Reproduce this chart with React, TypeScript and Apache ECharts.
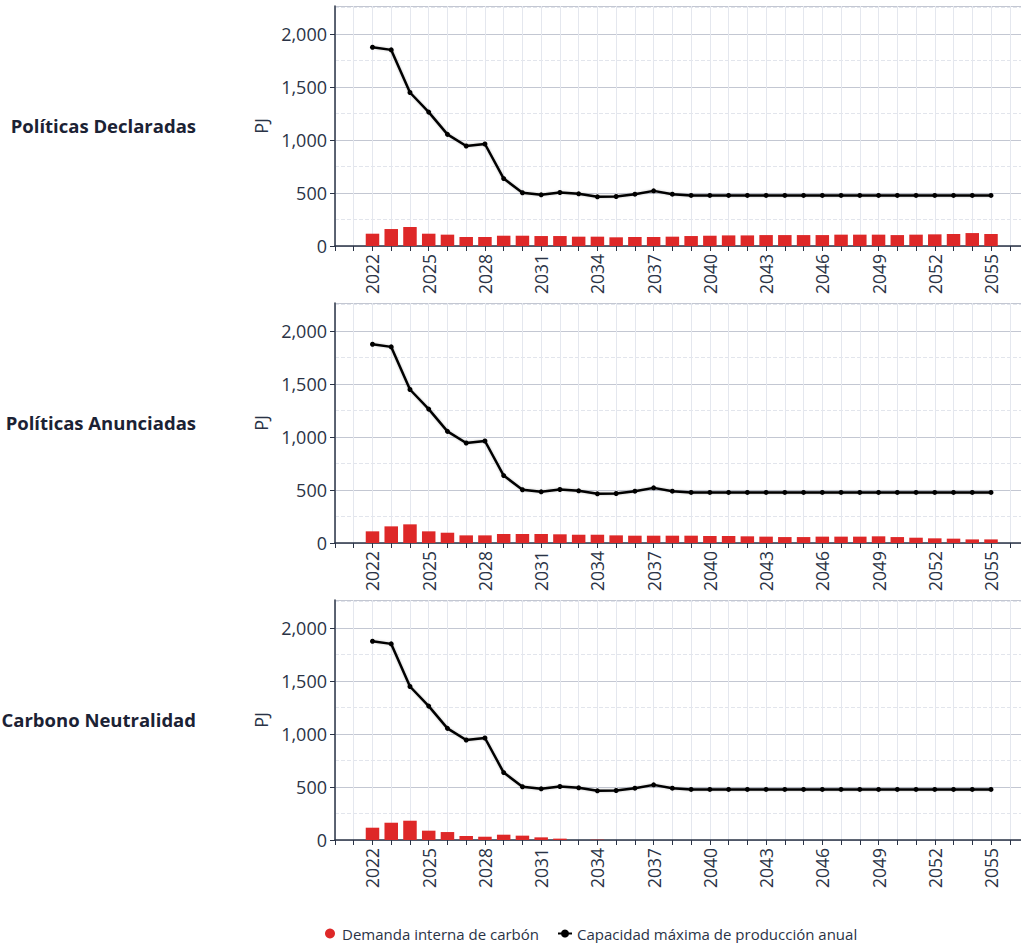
import React, { useEffect, useRef } from "react";
import * as echarts from "echarts";

const years: number[] = [];
for (let y = 2022; y <= 2055; y++) years.push(y);

const capacidad = [1875, 1850, 1448, 1263, 1053, 943, 962, 636, 502, 483, 505, 492, 464, 467, 489, 520, 489, 477, 477, 477, 477, 477, 477, 477, 477, 477, 477, 477, 477, 477, 477, 477, 477, 477];

const demandaDeclaradas = [116, 160, 179, 116, 107, 85, 85, 97, 97, 94, 94, 88, 88, 82, 85, 85, 88, 94, 97, 100, 100, 103, 103, 103, 103, 107, 107, 107, 103, 107, 110, 113, 122, 113];
const demandaAnunciadas = [110, 157, 176, 110, 97, 72, 72, 85, 85, 85, 82, 78, 78, 72, 69, 69, 69, 69, 66, 66, 63, 60, 56, 56, 60, 60, 60, 63, 56, 50, 44, 41, 34, 34];
const demandaNeutralidad = [116, 163, 182, 88, 75, 38, 31, 50, 41, 25, 13, 0, 3, 0, 0, 0, 0, 0, 0, 0, 0, 0, 0, 0, 0, 0, 0, 0, 0, 0, 0, 0, 0, 0];

const escenarios = ["Políticas Declaradas", "Políticas Anunciadas", "Carbono Neutralidad"];
const demandas = [demandaDeclaradas, demandaAnunciadas, demandaNeutralidad];
const yTicks = [0, 500, 1000, 1500, 2000];

const serieBarra = "Demanda interna de carbón";
const serieLinea = "Capacidad máxima de producción anual";

const FONT = "'Open Sans', 'Noto Sans', sans-serif";
const TXT = "#2a3346";

export default function App() {
  const ref = useRef<HTMLDivElement>(null);
  useEffect(() => {
    const chart = echarts.init(ref.current!, null, { renderer: "svg" });
    const tops = [6, 303, 600];
    const grid = tops.map((t) => ({ left: 335, right: 0, top: t, height: 240 }));
    const xAxis = tops.map((_, i) => ({
      type: "value",
      gridIndex: i,
      min: 2020,
      max: 2056.6,
      interval: 1,
      axisLine: { show: true, lineStyle: { color: TXT, width: 1.5 } },
      axisTick: { show: true, length: 5, lineStyle: { color: TXT } },
      splitLine: { show: true, lineStyle: { color: "#e4e7ee", width: 1 } },
      axisLabel: {
        rotate: 90,
        fontSize: 17.5,
        color: TXT,
        fontFamily: FONT,
        margin: 8,
        showMaxLabel: false,
        formatter: (v: number) =>
          Number.isInteger(v) && v >= 2022 && (v - 2022) % 3 === 0 ? String(v) : "",
      },
    }));
    const yAxis = tops.map((_, i) => ({
      type: "value",
      gridIndex: i,
      min: 0,
      max: 2264,
      interval: 500,
      name: "PJ",
      nameLocation: "middle",
      nameGap: 64,
      nameRotate: 90,
      nameTextStyle: { fontSize: 18, color: TXT, fontFamily: FONT },
      axisLine: { show: true, lineStyle: { color: TXT, width: 1.5 } },
      axisTick: { show: true, length: 5, lineStyle: { color: TXT } },
      minorTick: { show: false, splitNumber: 2 },
      minorSplitLine: { show: true, lineStyle: { color: "#e2e5ec", type: "dashed", width: 1 } },
      splitLine: { show: true, lineStyle: { color: "#c3c7d2", width: 1.2 } },
      axisLabel: {
        fontSize: 18,
        color: TXT,
        fontFamily: FONT,
        margin: 8,
        showMaxLabel: false,
        formatter: (v: number) => (yTicks.includes(v) ? v.toLocaleString("en-US") : ""),
      },
    }));
    const series: any[] = [];
    tops.forEach((_, i) => {
      series.push({
        name: serieBarra,
        type: "bar",
        xAxisIndex: i,
        yAxisIndex: i,
        barWidth: 13.5,
        itemStyle: { color: "#de2828" },
        data: years.map((y, k) => [y, demandas[i][k]]),
        z: 2,
      });
      series.push({
        name: serieLinea,
        type: "line",
        xAxisIndex: i,
        yAxisIndex: i,
        symbol: "circle",
        symbolSize: 5,
        itemStyle: { color: "#000" },
        lineStyle: { color: "#000", width: 2.5, shadowColor: "rgba(0,0,0,0.25)", shadowBlur: 2 },
        data: years.map((y, k) => [y, capacidad[k]]),
        z: 3,
      });
    });
    chart.setOption({
      animation: false,
      backgroundColor: "#ffffff",
      grid,
      xAxis,
      yAxis,
      series,
      legend: {
        left: 320,
        top: 921,
        itemGap: 18,
        itemWidth: 14,
        itemHeight: 10,
        textStyle: { fontSize: 15, color: TXT, fontFamily: FONT },
        data: [
          { name: serieBarra, icon: "circle", itemStyle: { color: "#de2828" } },
          { name: serieLinea },
        ],
      },
      graphic: escenarios.map((t, i) => ({
        type: "text",
        right: 1021 - 196,
        top: [126, 423, 720][i] - 10,
        style: {
          text: t,
          fontSize: 18.5,
          fontWeight: "bold",
          fill: "#1b2234",
          fontFamily: FONT,
        },
      })),
    });
    return () => chart.dispose();
  }, []);
  return (
    <div
      ref={ref}
      style={{ position: "fixed", left: 0, top: 0, width: 1021, height: 943, background: "#fff" }}
    />
  );
}
